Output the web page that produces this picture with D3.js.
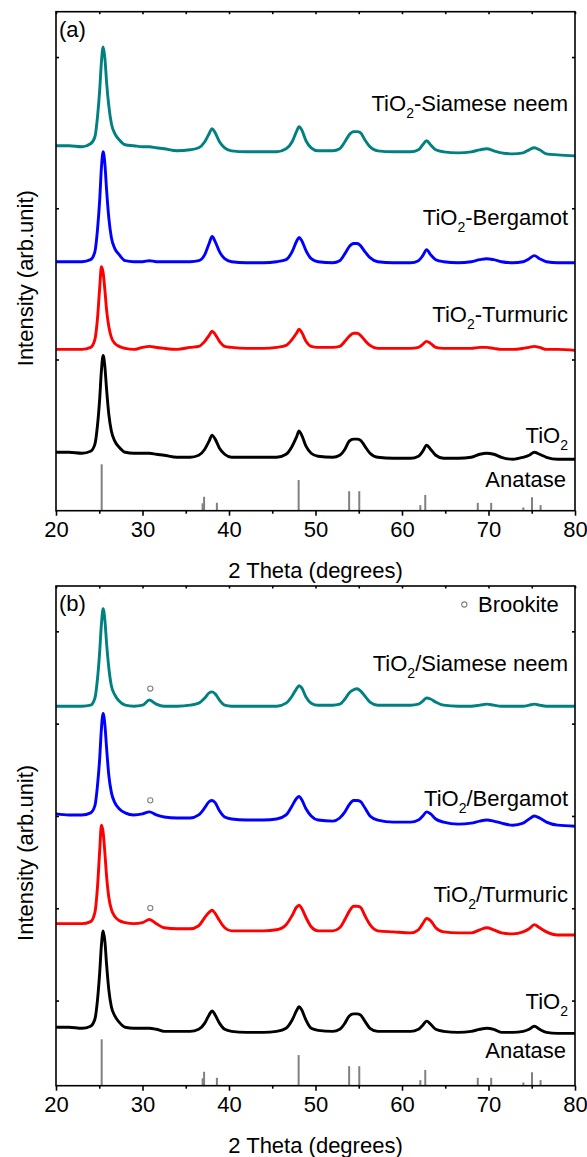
<!DOCTYPE html>
<html>
<head>
<meta charset="utf-8">
<script src="https://cdn.jsdelivr.net/npm/d3@7"></script>
<style>
  html, body { margin: 0; padding: 0; background: #fff; }
  svg { display: block; font-family: Arial, "Liberation Sans", sans-serif; }
</style>
</head>
<body>
<svg id="chart" width="587" height="1157"></svg>
<script>
// ---------------- data ----------------
// diffraction angle grid (degrees 2θ), shared by every pattern
const twoTheta = [20, 21.5, 23, 24, 24.5, 24.8, 25.05, 25.25, 25.45, 25.65,
  25.85, 26.1, 26.4, 26.8, 27.3, 28, 29, 30, 30.8, 31.6,
  32.5, 34, 35.5, 36.5, 37.2, 37.7, 38.05, 38.4, 38.9, 39.5,
  40.3, 42, 44, 45.5, 46.6, 47.3, 47.8, 48.1, 48.4, 48.9,
  49.5, 50.3, 52, 52.8, 53.4, 53.9, 54.4, 54.8, 55.2, 55.7,
  56.3, 57.2, 59, 61, 61.9, 62.4, 62.85, 63.3, 63.9, 64.8,
  66.5, 68, 69, 69.8, 70.6, 71.5, 72.8, 74, 74.7, 75.3,
  75.9, 76.7, 78, 80];

// panel (a): stacked intensities (arb. unit, offsets included)
const aSiameseNeem = [362, 362, 361, 364, 371, 391, 417, 445, 460, 449,
  425, 402, 384, 374, 368, 363, 362, 361, 361, 360,
  359, 357, 358, 360, 366, 374, 379, 375, 366, 360,
  357, 356, 356, 356, 359, 366, 376, 381, 378, 367,
  360, 357, 357, 359, 366, 373, 376, 376, 375, 368,
  361, 357, 356, 356, 358, 363, 367, 363, 358, 356,
  355, 356, 358, 359, 357, 355, 354, 355, 358, 360,
  358, 354, 353, 352];
const aBergamot = [247, 247, 247, 249, 257, 279, 308, 340, 356, 344,
  318, 291, 271, 260, 254, 248, 247, 247, 248, 247,
  247, 247, 247, 248, 254, 265, 272, 267, 257, 250,
  247, 246, 246, 247, 249, 257, 267, 271, 268, 258,
  250, 247, 246, 248, 255, 262, 265, 265, 263, 257,
  251, 247, 246, 246, 248, 253, 259, 254, 249, 247,
  246, 247, 249, 250, 249, 247, 246, 247, 250, 253,
  250, 247, 246, 246];
const aTurmuric = [160, 160, 160, 162, 170, 191, 221, 242, 236, 219,
  199, 183, 172, 166, 163, 161, 160, 162, 163, 162,
  161, 160, 162, 163, 168, 174, 178, 175, 168, 163,
  162, 161, 161, 162, 164, 170, 176, 180, 177, 168,
  163, 162, 162, 163, 168, 173, 176, 176, 174, 169,
  164, 161, 161, 161, 162, 165, 168, 166, 162, 161,
  161, 161, 162, 162, 161, 160, 160, 161, 162, 163,
  162, 160, 160, 159];
const aTiO2 = [58, 58, 57, 59, 66, 85, 111, 139, 154, 143,
  120, 96, 79, 69, 63, 58, 57, 57, 57, 56,
  55, 53, 53, 55, 61, 69, 75, 71, 62, 56,
  53, 53, 53, 53, 56, 64, 73, 79, 75, 64,
  57, 54, 53, 55, 61, 69, 71, 71, 70, 64,
  57, 53, 52, 52, 54, 59, 65, 61, 55, 52,
  52, 53, 56, 57, 56, 53, 51, 53, 55, 58,
  56, 53, 51, 51];

// panel (b)
const bSiameseNeem = [377, 377, 377, 378, 385, 404, 430, 457, 472, 461,
  438, 415, 397, 388, 382, 378, 377, 378, 383, 379,
  377, 377, 378, 380, 385, 390, 391, 389, 383, 378,
  377, 377, 377, 377, 380, 387, 394, 397, 395, 386,
  380, 378, 378, 379, 384, 390, 393, 394, 392, 387,
  381, 378, 378, 378, 379, 382, 385, 384, 381, 378,
  377, 377, 378, 379, 378, 377, 377, 377, 378, 379,
  378, 377, 377, 377];
const bBergamot = [272, 271, 271, 273, 280, 300, 326, 355, 370, 359,
  336, 310, 293, 283, 277, 273, 271, 272, 274, 271,
  269, 268, 268, 271, 278, 284, 285, 283, 275, 269,
  267, 266, 266, 267, 271, 280, 287, 289, 286, 277,
  270, 266, 265, 268, 274, 281, 285, 285, 284, 278,
  270, 266, 264, 264, 266, 270, 274, 272, 267, 264,
  262, 263, 265, 266, 265, 263, 261, 263, 267, 270,
  268, 264, 261, 260];
const bTurmuric = [165, 165, 165, 167, 176, 201, 236, 261, 254, 234,
  211, 191, 179, 172, 168, 166, 165, 166, 169, 165,
  161, 160, 160, 163, 171, 176, 178, 175, 168, 161,
  158, 158, 158, 159, 164, 173, 181, 183, 180, 171,
  162, 158, 158, 161, 169, 177, 182, 182, 181, 173,
  164, 158, 157, 156, 159, 165, 170, 168, 161, 157,
  156, 156, 159, 161, 159, 156, 155, 157, 160, 164,
  161, 157, 154, 154];
const bTiO2 = [64, 64, 63, 65, 72, 91, 117, 144, 158, 148,
  125, 101, 84, 75, 69, 64, 63, 63, 63, 62,
  60, 60, 60, 62, 68, 76, 80, 76, 68, 62,
  60, 59, 59, 60, 63, 71, 80, 84, 81, 71,
  63, 61, 60, 62, 68, 75, 77, 77, 76, 70,
  63, 60, 60, 60, 62, 66, 70, 67, 62, 60,
  59, 60, 62, 63, 62, 59, 59, 60, 62, 65,
  62, 59, 58, 58];

// anatase reference lines (JCPDS 21-1272), relative intensity
const anatasePos = [25.28, 36.95, 37.12, 38.6, 48.05, 53.89, 55.06, 62.12, 62.69, 68.76, 70.31, 74.03, 75.03, 76.02];
const anataseRel = [100, 16, 30, 17, 66, 42, 42, 12, 34, 17, 17, 7, 29, 12];

// brookite (121) reflection marked in panel (b)
const brookitePos = 30.9;

const xTicksMajor = [20, 30, 40, 50, 60, 70, 80];
const xTicksMinor = [25, 35, 45, 55, 65, 75];

const seriesColors = ["#008080", "#0000ff", "#ff0000", "#000000"];
const namesA = ["-Siamese neem", "-Bergamot", "-Turmuric", ""];
const namesB = ["/Siamese neem", "/Bergamot", "/Turmuric", ""];

// ---------------- layout ----------------
const svg = d3.select("#chart");
const plotLeft = 56, plotRight = 575;
const x = d3.scaleLinear().domain([20, 80]).range([plotLeft, plotRight]);
const stickScale = d3.scaleLinear().domain([0, 100]).range([0, 46.4]);

const panels = [
  { tag: "(a)", top: 11.7, bottom: 510.7, domain: [0, 495], yTicks: [150, 300, 450],
    series: [aSiameseNeem, aBergamot, aTurmuric, aTiO2], names: namesA,
    labelY: [99.3, 213.3, 310, 431.6], anataseY: 475, brookite: false },
  { tag: "(b)", top: 586, bottom: 1085.7, domain: [7, 494.2], yTicks: [90, 180, 270, 360, 450],
    series: [bSiameseNeem, bBergamot, bTurmuric, bTiO2], names: namesB,
    labelY: [85, 220, 316, 423.3], anataseY: 472.3, brookite: true }
];

const FONT = 22;

function sampleLabel(g, xPos, yPos, suffix) {
  const t = g.append("text")
    .attr("x", xPos).attr("y", yPos)
    .attr("text-anchor", "end")
    .attr("font-size", FONT).attr("fill", "#000");
  t.append("tspan").text("TiO");
  t.append("tspan").attr("font-size", 14).attr("dy", 7).text("2");
  if (suffix) t.append("tspan").attr("dy", -7).text(suffix);
  return t;
}

panels.forEach(p => {
  const g = svg.append("g");
  const y = d3.scaleLinear().domain(p.domain).range([p.bottom, p.top]);

  // anatase sticks
  g.selectAll("line.stick").data(anatasePos).join("line")
    .attr("class", "stick")
    .attr("x1", d => x(d)).attr("x2", d => x(d))
    .attr("y1", p.bottom)
    .attr("y2", (d, i) => p.bottom - stickScale(anataseRel[i]))
    .attr("stroke", "#808080").attr("stroke-width", 2);

  // diffraction patterns, bottom trace first
  const line = d3.line()
    .x((d, i) => x(twoTheta[i]))
    .y(d => y(d))
    .curve(d3.curveMonotoneX);
  [3, 2, 1, 0].forEach(k => {
    g.append("path")
      .attr("d", line(p.series[k]))
      .attr("fill", "none")
      .attr("stroke", seriesColors[k])
      .attr("stroke-width", 2.9)
      .attr("stroke-linejoin", "round");
  });

  // brookite markers above the small 30.9° reflection
  if (p.brookite) {
    const idx = d3.bisectLeft(twoTheta, 30.8);
    [0, 1, 2].forEach(k => {
      g.append("circle")
        .attr("cx", x(brookitePos))
        .attr("cy", y(p.series[k][idx]) - 11.5)
        .attr("r", 2.6)
        .attr("fill", "none").attr("stroke", "#808080").attr("stroke-width", 1.1);
    });
    g.append("circle")
      .attr("cx", 464.3).attr("cy", p.top + 18.5).attr("r", 2.6)
      .attr("fill", "none").attr("stroke", "#808080").attr("stroke-width", 1.1);
    g.append("text").attr("x", 478).attr("y", p.top + 25.7)
      .attr("font-size", FONT).text("Brookite");
  }

  // frame and axes
  const xBottom = d3.axisBottom(x).tickValues(xTicksMajor).tickSize(5).tickPadding(6).tickFormat(d3.format("d"));
  const gx = g.append("g").attr("transform", `translate(0,${p.bottom})`).call(xBottom);
  gx.selectAll("text").attr("font-size", FONT).attr("font-family", "Arial, 'Liberation Sans', sans-serif").attr("fill", "#000");
  g.append("g").attr("transform", `translate(0,${p.bottom})`)
    .call(d3.axisBottom(x).tickValues(xTicksMinor).tickSize(3).tickFormat(""));
  g.append("g").attr("transform", `translate(0,${p.top})`)
    .call(d3.axisBottom(x).tickValues(xTicksMajor.concat(xTicksMinor)).tickSize(2.5).tickFormat(""));
  g.append("g").attr("transform", `translate(${plotLeft},0)`)
    .call(d3.axisRight(y).tickValues(p.yTicks).tickSize(3).tickFormat(""));
  g.append("g").attr("transform", `translate(${plotRight},0)`)
    .call(d3.axisLeft(y).tickValues(p.yTicks).tickSize(3).tickFormat(""));
  g.selectAll(".domain").remove();
  g.selectAll(".tick line").attr("stroke", "#000").attr("stroke-width", 1.6);
  g.append("rect")
    .attr("x", plotLeft).attr("y", p.top)
    .attr("width", plotRight - plotLeft).attr("height", p.bottom - p.top)
    .attr("fill", "none").attr("stroke", "#000").attr("stroke-width", 1.6);

  // texts
  g.append("text").attr("x", 59).attr("y", p.top + 25)
    .attr("font-size", FONT).text(p.tag);
  p.series.forEach((s, k) => sampleLabel(g, 568, p.top + p.labelY[k], p.names[k]));
  g.append("text").attr("x", 566).attr("y", p.top + p.anataseY)
    .attr("text-anchor", "end").attr("font-size", FONT).text("Anatase");
  g.append("text")
    .attr("x", (plotLeft + plotRight) / 2).attr("y", p.bottom + 67)
    .attr("text-anchor", "middle").attr("font-size", FONT).text("2 Theta (degrees)");
  g.append("text")
    .attr("transform", `translate(33,${(p.top + p.bottom) / 2 + 17}) rotate(-90)`)
    .attr("text-anchor", "middle").attr("font-size", FONT).text("Intensity (arb.unit)");
});
</script>
</body>
</html>
